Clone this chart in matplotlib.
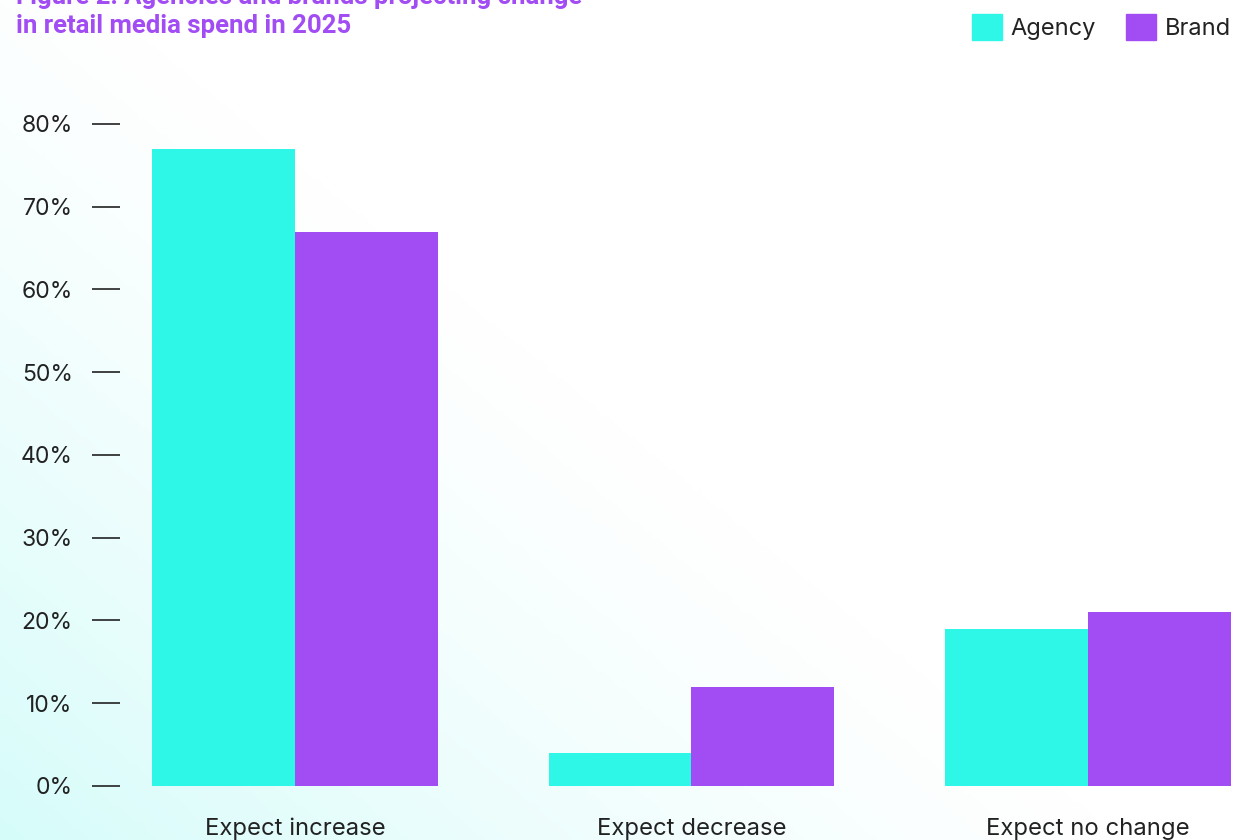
import numpy as np
import matplotlib
matplotlib.use("Agg")
import matplotlib.pyplot as plt
from matplotlib.patches import Patch
from matplotlib.colors import LinearSegmentedColormap

categories = ["Expect increase", "Expect decrease", "Expect no change"]
agency = [77, 4, 19]
brand = [67, 12, 21]
yticks = [0, 10, 20, 30, 40, 50, 60, 70, 80]
title = "Figure 2: Agencies and brands projecting change\nin retail media spend in 2025"

CYAN = "#2EF7E8"
PURPLE = "#A24CF3"
TEXT = "#222222"

plt.rcParams["font.family"] = ["Inter", "DejaVu Sans"]

fig = plt.figure(figsize=(12.53, 8.4), dpi=100)

# background gradient: light cyan bottom-left fading to white
bg = fig.add_axes([0, 0, 1, 1], zorder=-10)
h, w = 200, 300
yy, xx = np.mgrid[0:h, 0:w]
u = xx / (w - 1)
v = 1 - yy / (h - 1)
t = np.clip(1 - (u * 1.1 + v * 0.9) / 1.0, 0, 1) ** 1.3
cmap = LinearSegmentedColormap.from_list("bg", ["#FFFFFF", "#D6FCFA"])
bg.imshow(t, cmap=cmap, aspect="auto", extent=[0, 1, 0, 1], vmin=0, vmax=1)
bg.axis("off")

ax = fig.add_axes([120 / 1253, 1 - 786 / 840, 1133 / 1253, 686 / 840])
ax.patch.set_alpha(0)

x = np.arange(len(categories))
bw = 0.36
ax.bar(x - bw / 2, agency, bw, color=CYAN, label="Agency")
ax.bar(x + bw / 2, brand, bw, color=PURPLE, label="Brand")

ax.set_xlim(-0.441, 2.416)
ax.set_ylim(0, 82.9)
ax.set_yticks(yticks)
ax.set_yticklabels([f"{t}%" for t in yticks])
ax.set_xticks(x)
ax.set_xticklabels(categories)

for s in ax.spines.values():
    s.set_visible(False)
ax.tick_params(axis="y", length=20, width=1.2, color=TEXT, pad=14,
               labelsize=16.5, labelcolor=TEXT)
ax.tick_params(axis="x", length=0, pad=23, labelsize=17.2, labelcolor=TEXT)

fig.text(16 / 1253, 1 - 33 / 840, title, color=PURPLE, fontsize=18.5,
         fontweight="bold", family=["Roboto", "DejaVu Sans"],
         ha="left", va="baseline", linespacing=1.25)

handles = [Patch(color=CYAN, label="Agency"), Patch(color=PURPLE, label="Brand")]
fig.legend(handles=handles, loc="upper right", bbox_to_anchor=(1 - 1 / 1253, 1 + 7 / 840),
           ncol=2, frameon=False, fontsize=17, handlelength=1.27, handleheight=1.27,
           handletextpad=0.35, columnspacing=1.3, labelcolor=TEXT)

fig.savefig("out.png", dpi=100)
